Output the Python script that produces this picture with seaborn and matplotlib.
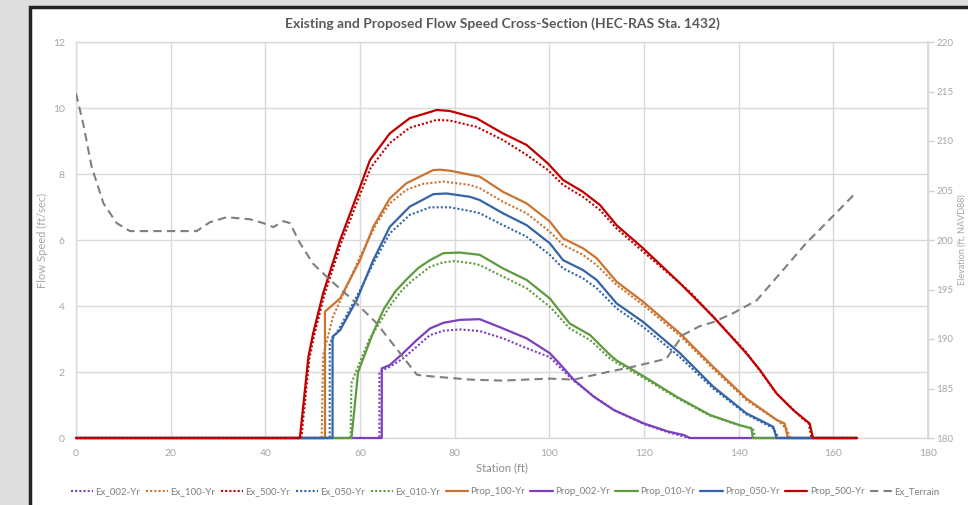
import pandas as pd
import seaborn as sns
import matplotlib.pyplot as plt
from matplotlib.patches import Rectangle

# Estacion (ft) y velocidad (ft/sec) de cada perfil
ex002_x = [0, 64.1, 64.1, 66.3, 69.1, 72.0, 74.8, 77.6, 81.1, 85.3, 90.2, 95.2, 100.1, 105, 110, 114, 120, 125, 129.5, 165]
ex002_y = [0, 0, 2.0, 2.16, 2.41, 2.77, 3.12, 3.25, 3.29, 3.24, 3.02, 2.72, 2.45, 1.75, 1.2, 0.82, 0.42, 0.18, 0, 0]

prop002_x = [0, 64.6, 64.6, 66.3, 69.1, 72.0, 74.8, 77.6, 81.1, 85.3, 90.2, 95.2, 100.1, 102.5, 105.2, 109.4, 113.6, 120, 125, 128.4, 129.7, 165]
prop002_y = [0, 0, 2.11, 2.21, 2.57, 2.97, 3.32, 3.49, 3.58, 3.6, 3.32, 3.02, 2.57, 2.2, 1.76, 1.25, 0.85, 0.44, 0.2, 0.09, 0, 0]

ex010_x = [0, 58.0, 58.2, 59.1, 62.0, 64.2, 66.3, 69.0, 71.2, 74.8, 77.5, 80.0, 83.9, 85.3, 90.2, 95.2, 100.1, 104.3, 108.6, 112.8, 114.2, 119.8, 126.9, 133.9, 140.2, 143.0, 143.5, 165]
ex010_y = [0, 0, 1.66, 2.0, 3.0, 3.5, 4.0, 4.5, 4.79, 5.19, 5.32, 5.36, 5.29, 5.24, 4.89, 4.54, 3.98, 3.32, 2.97, 2.41, 2.28, 1.83, 1.22, 0.68, 0.38, 0.3, 0, 0]

prop010_x = [0, 58.2, 59.6, 62.8, 65.0, 67.5, 69.8, 72.3, 74.8, 77.6, 81.1, 85.3, 90.2, 95.2, 100.1, 104.3, 108.6, 112.8, 114.2, 119.8, 126.9, 133.9, 140.2, 142.7, 143.0, 165]
prop010_y = [0, 0, 2.0, 3.2, 3.9, 4.45, 4.8, 5.15, 5.39, 5.6, 5.62, 5.55, 5.14, 4.79, 4.23, 3.47, 3.12, 2.52, 2.35, 1.88, 1.25, 0.70, 0.39, 0.29, 0, 0]

ex050_x = [0, 53.6, 53.6, 55.4, 57.2, 60.0, 62.8, 66.3, 70.5, 74.8, 79.0, 83.2, 85.3, 90.2, 95.2, 100.1, 102.9, 107.1, 110.0, 114.2, 119.8, 127.6, 134.6, 141.6, 147.3, 148.5, 165]
ex050_y = [0, 0, 2.87, 3.27, 3.73, 4.48, 5.29, 6.2, 6.76, 6.99, 6.99, 6.88, 6.81, 6.45, 6.1, 5.55, 5.14, 4.84, 4.54, 3.93, 3.37, 2.45, 1.5, 0.72, 0.3, 0, 0]

prop050_x = [0, 54.2, 54.2, 55.8, 59.3, 62.8, 66.3, 70.5, 75.5, 78.3, 83.2, 85.3, 90.2, 95.2, 100.1, 102.9, 107.1, 110.0, 114.2, 119.8, 127.6, 134.6, 141.6, 147.3, 148.0, 165]
prop050_y = [0, 0, 3.07, 3.27, 4.18, 5.39, 6.40, 7.01, 7.39, 7.41, 7.31, 7.21, 6.81, 6.45, 5.9, 5.39, 5.09, 4.79, 4.08, 3.52, 2.57, 1.56, 0.75, 0.34, 0, 0]

ex100_x = [0, 51.9, 52.2, 54.3, 57.2, 60.0, 63.5, 66.3, 69.8, 73.3, 77.6, 83.2, 85.3, 90.2, 95.2, 100.1, 102.9, 107.1, 110.0, 114.2, 119.8, 127.6, 134.6, 141.6, 148.5, 150.3, 150.8, 165]
ex100_y = [0, 0, 2.5, 3.68, 4.59, 5.49, 6.5, 7.11, 7.52, 7.7, 7.77, 7.67, 7.57, 7.16, 6.81, 6.25, 5.85, 5.55, 5.24, 4.64, 4.03, 3.1, 2.1, 1.15, 0.5, 0.25, 0, 0]

prop100_x = [0, 52.6, 52.6, 55.8, 60.0, 62.8, 66.3, 69.8, 75.5, 76.9, 79.0, 85.3, 90.2, 95.2, 100.1, 102.9, 107.1, 110.0, 114.2, 119.8, 127.6, 134.6, 141.6, 148.0, 149.7, 150.4, 165]
prop100_y = [0, 0, 3.83, 4.23, 5.39, 6.4, 7.26, 7.72, 8.12, 8.13, 8.1, 7.92, 7.46, 7.11, 6.56, 6.05, 5.75, 5.45, 4.74, 4.13, 3.17, 2.16, 1.2, 0.55, 0.44, 0, 0]

ex500_x = [0, 47.6, 49.3, 50.3, 52.4, 56.0, 60.2, 62.3, 66.3, 70.5, 76.2, 79.0, 84.6, 90.2, 95.2, 99.7, 102.9, 107.1, 110.7, 114.2, 119.8, 129.7, 134.6, 141.6, 148.0, 153.4, 154.8, 155.4, 165]
ex500_y = [0, 0, 2.4, 3.1, 4.3, 5.9, 7.45, 8.2, 8.94, 9.4, 9.64, 9.62, 9.43, 9.03, 8.58, 8.12, 7.67, 7.31, 6.91, 6.35, 5.65, 4.43, 3.68, 2.6, 1.35, 0.6, 0.44, 0, 0]

prop500_x = [0, 47.3, 49.1, 50.1, 52.2, 55.8, 60.0, 62.1, 66.3, 70.5, 76.2, 79.0, 84.6, 90.2, 95.2, 99.7, 102.9, 107.1, 110.7, 114.2, 119.8, 127.6, 134.6, 141.6, 144.5, 148.0, 151.5, 155.0, 155.7, 165]
prop500_y = [0, 0, 2.46, 3.17, 4.38, 6.0, 7.6, 8.42, 9.23, 9.69, 9.94, 9.91, 9.69, 9.23, 8.88, 8.32, 7.82, 7.46, 7.06, 6.45, 5.75, 4.69, 3.68, 2.57, 2.06, 1.35, 0.85, 0.44, 0, 0]

# Terreno existente (elevacion, ft NAVD88)
terr_x = [0, 1.5, 3.3, 5.8, 8.6, 11.4, 25.5, 28.3, 31.8, 36.7, 39.6, 41.7, 43.8, 45.2, 47.3, 50.1, 53.6, 58.6, 63.5, 68.4, 72.0, 73.3, 83.2, 90, 100, 105.2, 110.7, 117.7, 124.7, 128.2, 131.8, 134.6, 138.8, 143.8, 148.7, 154.3, 159.9, 164.2]
terr_y = [214.8, 211.8, 207.4, 203.7, 201.7, 200.9, 200.9, 201.8, 202.3, 202.1, 201.7, 201.3, 201.9, 201.7, 199.7, 197.6, 196.0, 193.9, 191.6, 188.6, 186.4, 186.3, 185.9, 185.8, 186.0, 185.9, 186.5, 187.2, 188.0, 190.4, 191.3, 191.7, 192.6, 193.9, 196.6, 199.7, 202.4, 204.5]

x_ticks = [0, 20, 40, 60, 80, 100, 120, 140, 160, 180]
y_ticks = [0, 2, 4, 6, 8, 10, 12]
elev_ticks = [180, 185, 190, 195, 200, 205, 210, 215, 220]

# nombre, x, y, color, estilo (en el orden de la leyenda)
series = [
    ("Ex_002-Yr", ex002_x, ex002_y, "#7b3fbf", ":"),
    ("Ex_100-Yr", ex100_x, ex100_y, "#cc7330", ":"),
    ("Ex_500-Yr", ex500_x, ex500_y, "#c00000", ":"),
    ("Ex_050-Yr", ex050_x, ex050_y, "#3464a8", ":"),
    ("Ex_010-Yr", ex010_x, ex010_y, "#5e9a3e", ":"),
    ("Prop_100-Yr", prop100_x, prop100_y, "#cc7330", "-"),
    ("Prop_002-Yr", prop002_x, prop002_y, "#7b3fbf", "-"),
    ("Prop_010-Yr", prop010_x, prop010_y, "#5e9a3e", "-"),
    ("Prop_050-Yr", prop050_x, prop050_y, "#3464a8", "-"),
    ("Prop_500-Yr", prop500_x, prop500_y, "#c00000", "-"),
]

sns.set_theme(style="white")
plt.rcParams['font.family'] = ['Lato', 'DejaVu Sans']

fig = plt.figure(figsize=(9.68, 5.05), dpi=100)
fig.patch.set_facecolor("#dedede")
# marco blanco con borde oscuro
fig.add_artist(Rectangle((29.5 / 968, -0.05), 1.0, (505 - 6.5) / 505 + 0.05,
                         transform=fig.transFigure, facecolor="white",
                         edgecolor="#222222", linewidth=2.5, zorder=-10))

ax = fig.add_axes([76 / 968, (505 - 438) / 505, 852 / 968, 396 / 505])
ax.set_facecolor("white")

for nombre, xs, ys, color, estilo in series:
    df = pd.DataFrame({"x": xs, "y": ys})
    if estilo == ":":
        sns.lineplot(data=df, x="x", y="y", ax=ax, color=color, linewidth=1.5,
                     linestyle=(0, (1, 1)), estimator=None, sort=False, label=nombre,
                     clip_on=False, zorder=3)
    else:
        sns.lineplot(data=df, x="x", y="y", ax=ax, color=color, linewidth=1.6,
                     estimator=None, sort=False, label=nombre, clip_on=False, zorder=3)

ax.set_xlim(0, 180)
ax.set_ylim(0, 12)
ax.set_xticks(x_ticks)
ax.set_yticks(y_ticks)
ax.grid(True, color="#d9d9d9", linewidth=1)
ax.tick_params(axis="both", length=0, labelsize=7.5, colors="#a6a6a6", pad=8)
for s in ax.spines.values():
    s.set_color("#d9d9d9")
    s.set_linewidth(1)
    s.set_zorder(1)
ax.set_xlabel("Station (ft)", fontsize=8, color="#8c8c8c", labelpad=3)
ax.set_ylabel("Flow Speed (ft/sec)", fontsize=8, color="#a6a6a6")
ax.yaxis.set_label_coords(-0.033, 0.5)

ax2 = ax.twinx()
df_t = pd.DataFrame({"x": terr_x, "y": terr_y})
sns.lineplot(data=df_t, x="x", y="y", ax=ax2, color="#7f7f7f", linewidth=1.5,
             linestyle=(0, (4, 2.5)), estimator=None, sort=False, label="Ex_Terrain")
ax2.set_ylim(180, 220)
ax2.set_yticks(elev_ticks)
ax2.tick_params(axis="y", length=4, width=1, color="#d0d0d0", labelsize=7,
                colors="#a6a6a6", pad=2)
ax2.tick_params(axis="y", color="#d0d0d0")
for lado in ["left", "top", "bottom"]:
    ax2.spines[lado].set_visible(False)
ax2.spines["right"].set_color("#d9d9d9")
ax2.set_ylabel("Elevation (ft, NAVD88)", fontsize=6.5, color="#a6a6a6")
ax2.yaxis.set_label_coords(1.035, 0.5)
ax2.set_xlabel("")

h1, l1 = ax.get_legend_handles_labels()
h2, l2 = ax2.get_legend_handles_labels()
ax.get_legend().remove()
ax2.get_legend().remove()
fig.legend(h1 + h2, l1 + l2, loc="center", bbox_to_anchor=(0.522, 0.026), ncol=11,
           frameon=False, fontsize=7, handlelength=2.3, handletextpad=0.25,
           columnspacing=0.55, labelcolor="#7f7f7f")

ax.set_title("Existing and Proposed Flow Speed Cross-Section (HEC-RAS Sta. 1432)",
             fontsize=10, fontweight="bold", color="#595959", pad=10)

fig.savefig("out.png", dpi=100, facecolor=fig.get_facecolor())
